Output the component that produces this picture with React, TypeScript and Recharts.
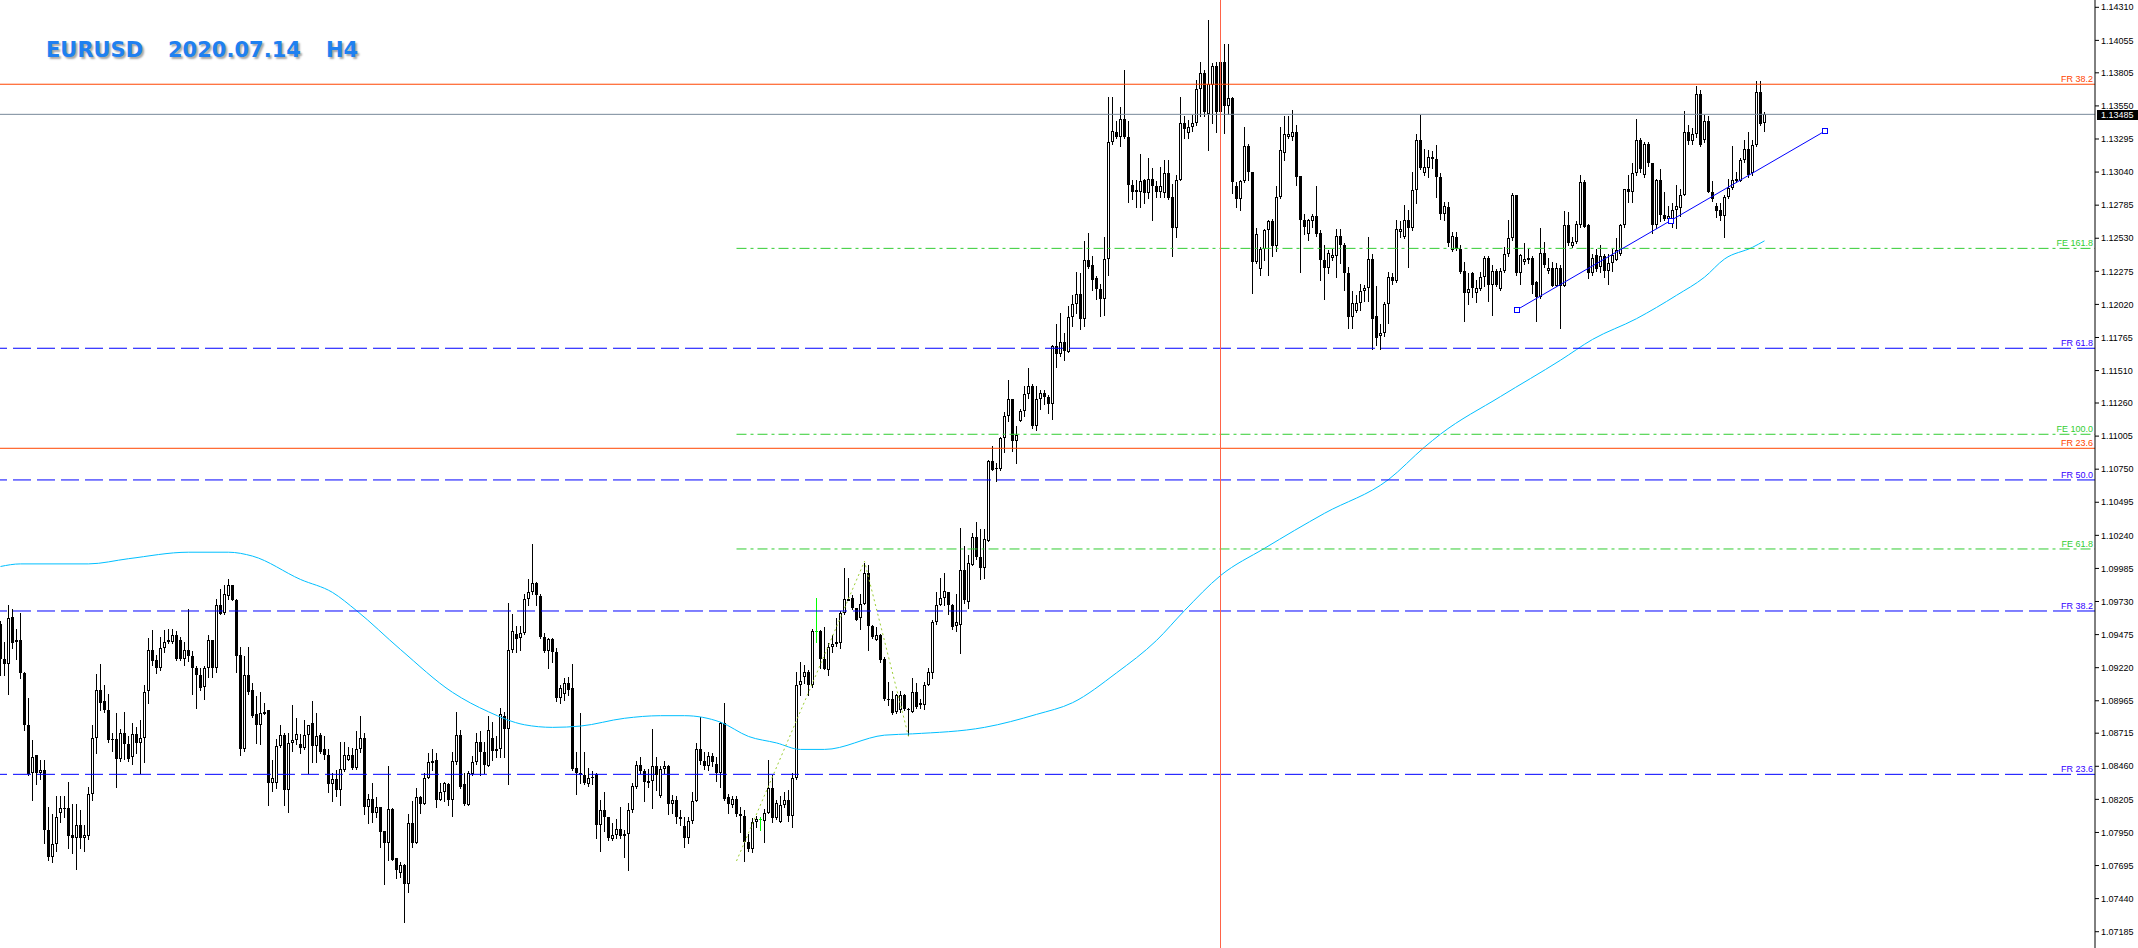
import React from 'react';
import { ComposedChart, Bar, Line, XAxis, YAxis, ReferenceLine, ReferenceDot } from 'recharts';

const OPEN = [
1.0956,1.0929,1.0925,1.0961,1.0942,1.0943,1.0918,1.0878,1.0841,1.0855,
1.0841,1.0843,1.0797,1.0776,1.0786,1.0810,1.0814,1.0814,1.0793,1.0791,
1.0801,1.0791,1.0792,1.0825,1.0868,1.0905,1.0896,1.0889,1.0867,1.0867,
1.0852,1.0872,1.0863,1.0853,1.0871,1.0864,1.0868,1.0904,1.0936,1.0928,
1.0922,1.0937,1.0942,1.0942,1.0947,1.0943,1.0929,1.0936,1.0931,1.0922,
1.0916,1.0907,1.0922,1.0943,1.0922,1.0970,1.0964,1.0977,1.0986,1.0974,
1.0932,1.0859,1.0916,1.0905,1.0886,1.0878,1.0887,1.0889,1.0833,1.0833,
1.0862,1.0870,1.0828,1.0864,1.0866,1.0863,1.0860,1.0870,1.0879,1.0862,
1.0870,1.0859,1.0855,1.0832,1.0836,1.0828,1.0843,1.0851,1.0855,1.0845,
1.0859,1.0868,1.0815,1.0821,1.0810,1.0815,1.0796,1.0787,1.0813,1.0775,
1.0764,1.0770,1.0755,1.0802,1.0787,1.0822,1.0817,1.0837,1.0849,1.0851,
1.0820,1.0826,1.0832,1.0820,1.0849,1.0870,1.0832,1.0816,1.0840,1.0849,
1.0865,1.0857,1.0846,1.0868,1.0858,1.0859,1.0885,1.0875,1.0936,1.0948,
1.0945,1.0949,1.0975,1.0980,1.0987,1.0977,1.0946,1.0935,1.0944,1.0934,
1.0899,1.0902,1.0910,1.0906,1.0845,1.0841,1.0839,1.0832,1.0838,1.0840,
1.0801,1.0812,1.0807,1.0790,1.0793,1.0798,1.0792,1.0794,1.0812,1.0830,
1.0847,1.0842,1.0834,1.0835,1.0846,1.0823,1.0844,1.0846,1.0817,1.0820,
1.0807,1.0800,1.0791,1.0804,1.0819,1.0859,1.0850,1.0846,1.0854,1.0848,
1.0841,1.0879,1.0822,1.0816,1.0821,1.0809,1.0808,1.0788,1.0782,1.0803,
1.0805,1.0804,1.0810,1.0829,1.0806,1.0803,1.0816,1.0820,1.0808,1.0837,
1.0909,1.0915,1.0919,1.0909,1.0950,1.0950,1.0929,1.0920,1.0938,1.0940,
1.0941,1.0964,1.0974,1.0976,1.0968,1.0960,1.0971,1.0995,1.0954,1.0943,
1.0947,1.0929,1.0898,1.0898,1.0888,1.0889,1.0901,1.0890,1.0888,1.0903,
1.0893,1.0893,1.0909,1.0918,1.0957,1.0970,1.0976,1.0980,1.0970,1.0954,
1.0955,1.0997,1.0973,1.1001,1.1023,1.1007,1.0999,1.1020,1.1081,1.1076,
1.1075,1.1099,1.1116,1.1129,1.1097,1.1112,1.1120,1.1133,1.1139,1.1108,
1.1129,1.1134,1.1131,1.1125,1.1170,1.1164,1.1173,1.1165,1.1192,1.1202,
1.1210,1.1191,1.1236,1.1232,1.1222,1.1214,1.1206,1.1237,1.1327,1.1335,
1.1331,1.1345,1.1331,1.1294,1.1290,1.1289,1.1298,1.1288,1.1299,1.1293,
1.1289,1.1288,1.1303,1.1285,1.1261,1.1298,1.1342,1.1334,1.1339,1.1342,
1.1368,1.1380,1.1349,1.1371,1.1386,1.1350,1.1389,1.1355,1.1361,1.1293,
1.1283,1.1297,1.1324,1.1304,1.1235,1.1229,1.1245,1.1259,1.1266,1.1247,
1.1285,1.1319,1.1331,1.1331,1.1335,1.1301,1.1267,1.1256,1.1266,1.1270,
1.1257,1.1236,1.1230,1.1238,1.1239,1.1255,1.1248,1.1226,1.1192,1.1197,
1.1203,1.1212,1.1215,1.1237,1.1193,1.1178,1.1180,1.1202,1.1223,1.1220,
1.1258,1.1254,1.1267,1.1261,1.1290,1.1329,1.1303,1.1307,1.1316,1.1314,
1.1300,1.1272,1.1277,1.1244,1.1254,1.1245,1.1228,1.1211,1.1226,1.1211,
1.1214,1.1223,1.1238,1.1217,1.1228,1.1214,1.1228,1.1241,1.1253,1.1286,
1.1226,1.1235,1.1236,1.1238,1.1219,1.1208,1.1242,1.1228,1.1230,1.1216,
1.1230,1.1216,1.1263,1.1247,1.1250,1.1263,1.1296,1.1263,1.1226,1.1240,
1.1231,1.1239,1.1228,1.1234,1.1236,1.1241,1.1263,1.1291,1.1289,1.1303,
1.1329,1.1302,1.1326,1.1311,1.1263,1.1298,1.1271,1.1268,1.1268,1.1275,
1.1276,1.1286,1.1335,1.1328,1.1333,1.1364,1.1329,1.1343,1.1289,1.1278,
1.1275,1.1270,1.1285,1.1292,1.1297,1.1297,1.1313,1.1322,1.1303,1.1325,
1.1366,1.1342,
];

const HIGH = [
1.0958,1.0942,1.0970,1.0967,1.0952,1.0964,1.0919,1.0899,1.0866,1.0855,
1.0851,1.0851,1.0815,1.0809,1.0823,1.0823,1.0823,1.0834,1.0817,1.0817,
1.0812,1.0801,1.0830,1.0878,1.0917,1.0925,1.0909,1.0902,1.0872,1.0887,
1.0875,1.0888,1.0869,1.0879,1.0876,1.0882,1.0909,1.0945,1.0951,1.0932,
1.0946,1.0951,1.0952,1.0952,1.0950,1.0946,1.0942,1.0967,1.0935,1.0923,
1.0922,1.0923,1.0947,1.0943,1.0975,1.0983,1.0986,1.0990,1.0986,1.0975,
1.0938,1.0931,1.0938,1.0910,1.0900,1.0903,1.0895,1.0889,1.0851,1.0867,
1.0878,1.0872,1.0872,1.0893,1.0883,1.0871,1.0882,1.0878,1.0896,1.0887,
1.0872,1.0869,1.0859,1.0841,1.0843,1.0865,1.0865,1.0861,1.0860,1.0873,
1.0885,1.0872,1.0825,1.0833,1.0822,1.0815,1.0796,1.0846,1.0814,1.0775,
1.0772,1.0771,1.0809,1.0819,1.0829,1.0823,1.0841,1.0856,1.0859,1.0856,
1.0833,1.0834,1.0833,1.0857,1.0888,1.0874,1.0841,1.0842,1.0854,1.0872,
1.0873,1.0865,1.0885,1.0880,1.0869,1.0891,1.0888,1.0972,1.0963,1.0954,
1.0954,1.0979,1.0990,1.1017,1.0988,1.0979,1.0949,1.0945,1.0945,1.0937,
1.0909,1.0914,1.0915,1.0925,1.0857,1.0887,1.0857,1.0845,1.0842,1.0841,
1.0820,1.0826,1.0807,1.0802,1.0805,1.0815,1.0797,1.0818,1.0833,1.0850,
1.0853,1.0844,1.0844,1.0875,1.0853,1.0846,1.0850,1.0847,1.0824,1.0823,
1.0812,1.0807,1.0807,1.0826,1.0864,1.0884,1.0857,1.0857,1.0856,1.0853,
1.0880,1.0895,1.0825,1.0823,1.0823,1.0815,1.0812,1.0794,1.0806,1.0808,
1.0807,1.0813,1.0851,1.0839,1.0820,1.0823,1.0826,1.0828,1.0841,1.0919,
1.0926,1.0924,1.0920,1.0952,1.0976,1.0951,1.0953,1.0941,1.0947,1.0960,
1.0966,1.0999,1.0991,1.0978,1.0968,1.0979,1.1003,1.1001,1.0955,1.0953,
1.0948,1.0930,1.0911,1.0904,1.0902,1.0904,1.0902,1.0891,1.0914,1.0910,
1.0898,1.0911,1.0922,1.0959,1.0980,1.0991,1.0995,1.0980,1.0971,1.0979,
1.1030,1.1016,1.1009,1.1026,1.1034,1.1029,1.1029,1.1082,1.1093,1.1080,
1.1100,1.1119,1.1144,1.1129,1.1108,1.1121,1.1139,1.1153,1.1141,1.1139,
1.1136,1.1136,1.1132,1.1171,1.1187,1.1195,1.1180,1.1201,1.1209,1.1227,
1.1226,1.1251,1.1257,1.1239,1.1224,1.1218,1.1254,1.1362,1.1362,1.1343,
1.1354,1.1383,1.1343,1.1298,1.1298,1.1318,1.1299,1.1315,1.1307,1.1297,
1.1308,1.1313,1.1313,1.1295,1.1302,1.1362,1.1347,1.1344,1.1348,1.1375,
1.1389,1.1383,1.1421,1.1388,1.1389,1.1402,1.1403,1.1403,1.1362,1.1296,
1.1298,1.1339,1.1326,1.1304,1.1261,1.1246,1.1260,1.1267,1.1268,1.1293,
1.1339,1.1347,1.1347,1.1352,1.1340,1.1301,1.1272,1.1268,1.1272,1.1293,
1.1259,1.1248,1.1244,1.1245,1.1260,1.1260,1.1249,1.1231,1.1212,1.1209,
1.1218,1.1217,1.1254,1.1241,1.1216,1.1187,1.1204,1.1227,1.1226,1.1267,
1.1266,1.1279,1.1275,1.1304,1.1333,1.1348,1.1322,1.1321,1.1320,1.1325,
1.1303,1.1281,1.1281,1.1258,1.1258,1.1248,1.1235,1.1226,1.1227,1.1221,
1.1227,1.1239,1.1239,1.1232,1.1229,1.1230,1.1246,1.1267,1.1288,1.1286,
1.1241,1.1249,1.1245,1.1239,1.1220,1.1261,1.1250,1.1238,1.1235,1.1234,
1.1232,1.1274,1.1273,1.1254,1.1266,1.1302,1.1298,1.1264,1.1241,1.1245,
1.1248,1.1241,1.1241,1.1245,1.1253,1.1264,1.1291,1.1302,1.1311,1.1345,
1.1330,1.1327,1.1327,1.1311,1.1299,1.1306,1.1289,1.1278,1.1280,1.1294,
1.1291,1.1351,1.1340,1.1338,1.1370,1.1367,1.1348,1.1347,1.1297,1.1280,
1.1280,1.1286,1.1299,1.1324,1.1304,1.1315,1.1329,1.1335,1.1329,1.1374,
1.1374,1.1350,
];

const LOW = [
1.0916,1.0916,1.0902,1.0937,1.0929,1.0914,1.0874,1.0839,1.0820,1.0832,
1.0836,1.0787,1.0774,1.0772,1.0781,1.0803,1.0807,1.0783,1.0779,1.0767,
1.0783,1.0781,1.0790,1.0820,1.0856,1.0889,1.0888,1.0865,1.0858,1.0830,
1.0850,1.0852,1.0850,1.0848,1.0856,1.0841,1.0849,1.0895,1.0924,1.0918,
1.0920,1.0934,1.0941,1.0941,1.0928,1.0928,1.0924,1.0927,1.0902,1.0891,
1.0905,1.0898,1.0915,1.0915,1.0919,1.0963,1.0963,1.0975,1.0974,1.0919,
1.0855,1.0858,1.0902,1.0884,1.0864,1.0863,1.0886,1.0816,1.0827,1.0829,
1.0861,1.0816,1.0811,1.0858,1.0863,1.0856,1.0859,1.0841,1.0849,1.0849,
1.0856,1.0852,1.0826,1.0819,1.0823,1.0816,1.0842,1.0851,1.0844,1.0844,
1.0857,1.0809,1.0802,1.0803,1.0807,1.0784,1.0755,1.0774,1.0774,1.0760,
1.0761,1.0726,1.0749,1.0784,1.0787,1.0810,1.0817,1.0837,1.0843,1.0815,
1.0820,1.0819,1.0816,1.0808,1.0848,1.0829,1.0816,1.0816,1.0839,1.0848,
1.0839,1.0841,1.0846,1.0851,1.0853,1.0853,1.0853,1.0832,1.0934,1.0934,
1.0936,1.0948,1.0970,1.0979,1.0970,1.0945,1.0934,1.0922,1.0926,1.0896,
1.0895,1.0897,1.0901,1.0843,1.0825,1.0833,1.0832,1.0831,1.0832,1.0791,
1.0781,1.0796,1.0789,1.0789,1.0791,1.0791,1.0776,1.0766,1.0811,1.0829,
1.0841,1.0819,1.0830,1.0814,1.0828,1.0822,1.0841,1.0809,1.0810,1.0802,
1.0801,1.0784,1.0787,1.0802,1.0819,1.0848,1.0844,1.0843,1.0846,1.0835,
1.0830,1.0820,1.0810,1.0815,1.0808,1.0795,1.0773,1.0781,1.0780,1.0799,
1.0797,1.0788,1.0810,1.0803,1.0805,1.0803,1.0815,1.0804,1.0799,1.0836,
1.0901,1.0910,1.0901,1.0907,1.0942,1.0922,1.0921,1.0916,1.0934,1.0939,
1.0937,1.0963,1.0974,1.0967,1.0959,1.0952,1.0971,1.0936,1.0945,1.0943,
1.0926,1.0897,1.0893,1.0886,1.0887,1.0888,1.0889,1.0870,1.0888,1.0891,
1.0891,1.0890,1.0909,1.0914,1.0956,1.0970,1.0970,1.0963,1.0952,1.0950,
1.0933,1.0972,1.0968,1.1001,1.1006,1.0990,1.0991,1.1020,1.1074,1.1066,
1.1074,1.1088,1.1112,1.1089,1.1080,1.1112,1.1116,1.1130,1.1107,1.1105,
1.1121,1.1125,1.1118,1.1114,1.1154,1.1162,1.1159,1.1165,1.1185,1.1195,
1.1183,1.1185,1.1230,1.1213,1.1206,1.1193,1.1194,1.1225,1.1326,1.1330,
1.1324,1.1330,1.1281,1.1283,1.1277,1.1277,1.1280,1.1284,1.1267,1.1285,
1.1285,1.1285,1.1283,1.1239,1.1254,1.1298,1.1330,1.1330,1.1336,1.1340,
1.1347,1.1347,1.1321,1.1342,1.1335,1.1324,1.1334,1.1349,1.1288,1.1277,
1.1275,1.1296,1.1298,1.1211,1.1234,1.1225,1.1236,1.1225,1.1239,1.1243,
1.1284,1.1313,1.1330,1.1329,1.1294,1.1227,1.1256,1.1252,1.1262,1.1255,
1.1221,1.1206,1.1226,1.1236,1.1223,1.1234,1.1213,1.1184,1.1184,1.1196,
1.1198,1.1205,1.1205,1.1168,1.1171,1.1168,1.1178,1.1188,1.1218,1.1219,
1.1254,1.1253,1.1231,1.1259,1.1280,1.1306,1.1302,1.1300,1.1307,1.1285,
1.1268,1.1267,1.1247,1.1243,1.1244,1.1226,1.1189,1.1202,1.1208,1.1204,
1.1213,1.1216,1.1205,1.1194,1.1216,1.1213,1.1227,1.1239,1.1252,1.1225,
1.1218,1.1233,1.1234,1.1211,1.1189,1.1207,1.1231,1.1226,1.1216,1.1216,
1.1184,1.1216,1.1248,1.1246,1.1249,1.1262,1.1262,1.1222,1.1225,1.1228,
1.1227,1.1223,1.1218,1.1228,1.1236,1.1240,1.1262,1.1281,1.1281,1.1302,
1.1304,1.1300,1.1309,1.1257,1.1261,1.1266,1.1267,1.1267,1.1262,1.1261,
1.1270,1.1286,1.1326,1.1326,1.1331,1.1324,1.1327,1.1289,1.1282,1.1269,
1.1267,1.1254,1.1284,1.1291,1.1296,1.1297,1.1312,1.1300,1.1302,1.1324,
1.1340,1.1336,
];

const CLOSE = [
1.0929,1.0925,1.0960,1.0941,1.0943,1.0918,1.0878,1.0840,1.0853,1.0841,
1.0843,1.0797,1.0776,1.0786,1.0807,1.0814,1.0813,1.0792,1.0791,1.0801,
1.0791,1.0793,1.0825,1.0868,1.0905,1.0895,1.0889,1.0866,1.0866,1.0852,
1.0872,1.0863,1.0852,1.0871,1.0864,1.0868,1.0903,1.0936,1.0927,1.0922,
1.0937,1.0942,1.0943,1.0947,1.0929,1.0929,1.0936,1.0931,1.0922,1.0916,
1.0906,1.0922,1.0943,1.0922,1.0970,1.0963,1.0979,1.0986,1.0974,1.0931,
1.0859,1.0916,1.0903,1.0885,1.0878,1.0887,1.0888,1.0833,1.0837,1.0862,
1.0870,1.0828,1.0864,1.0866,1.0871,1.0860,1.0870,1.0878,1.0862,1.0869,
1.0857,1.0855,1.0832,1.0836,1.0828,1.0844,1.0855,1.0855,1.0845,1.0859,
1.0868,1.0815,1.0821,1.0810,1.0815,1.0795,1.0787,1.0813,1.0774,1.0766,
1.0770,1.0755,1.0802,1.0787,1.0822,1.0817,1.0837,1.0849,1.0850,1.0820,
1.0826,1.0833,1.0820,1.0850,1.0870,1.0830,1.0817,1.0841,1.0849,1.0865,
1.0857,1.0847,1.0874,1.0858,1.0859,1.0886,1.0875,1.0936,1.0950,1.0944,
1.0949,1.0975,1.0980,1.0987,1.0978,1.0946,1.0935,1.0944,1.0934,1.0899,
1.0906,1.0910,1.0905,1.0844,1.0841,1.0839,1.0833,1.0837,1.0837,1.0801,
1.0812,1.0807,1.0791,1.0793,1.0798,1.0792,1.0794,1.0812,1.0831,1.0847,
1.0842,1.0834,1.0835,1.0846,1.0839,1.0844,1.0846,1.0817,1.0820,1.0807,
1.0805,1.0791,1.0804,1.0819,1.0859,1.0850,1.0846,1.0854,1.0849,1.0841,
1.0879,1.0821,1.0817,1.0821,1.0809,1.0808,1.0788,1.0782,1.0803,1.0805,
1.0805,1.0810,1.0829,1.0806,1.0818,1.0816,1.0820,1.0808,1.0837,1.0909,
1.0912,1.0919,1.0909,1.0950,1.0950,1.0929,1.0921,1.0938,1.0940,1.0942,
1.0964,1.0975,1.0975,1.0968,1.0959,1.0971,1.0995,1.0954,1.0946,1.0947,
1.0928,1.0898,1.0897,1.0887,1.0901,1.0901,1.0890,1.0889,1.0903,1.0892,
1.0895,1.0909,1.0919,1.0957,1.0970,1.0976,1.0981,1.0970,1.0953,1.0957,
1.0997,1.0974,1.1003,1.1023,1.1007,1.0999,1.1021,1.1081,1.1074,1.1075,
1.1099,1.1116,1.1129,1.1097,1.1101,1.1120,1.1133,1.1139,1.1108,1.1129,
1.1134,1.1131,1.1125,1.1170,1.1164,1.1173,1.1166,1.1192,1.1202,1.1210,
1.1191,1.1236,1.1231,1.1221,1.1214,1.1206,1.1237,1.1327,1.1336,1.1331,
1.1345,1.1331,1.1294,1.1289,1.1289,1.1297,1.1288,1.1299,1.1293,1.1289,
1.1293,1.1303,1.1284,1.1261,1.1298,1.1342,1.1337,1.1339,1.1342,1.1368,
1.1380,1.1350,1.1372,1.1386,1.1350,1.1389,1.1355,1.1361,1.1296,1.1283,
1.1297,1.1324,1.1304,1.1235,1.1256,1.1245,1.1259,1.1266,1.1247,1.1285,
1.1321,1.1333,1.1333,1.1335,1.1300,1.1267,1.1262,1.1267,1.1270,1.1256,
1.1236,1.1230,1.1242,1.1240,1.1255,1.1248,1.1226,1.1192,1.1203,1.1203,
1.1212,1.1215,1.1237,1.1191,1.1176,1.1180,1.1202,1.1223,1.1220,1.1260,
1.1260,1.1267,1.1261,1.1290,1.1329,1.1307,1.1308,1.1316,1.1314,1.1300,
1.1272,1.1278,1.1249,1.1255,1.1245,1.1227,1.1211,1.1214,1.1215,1.1215,
1.1223,1.1238,1.1217,1.1228,1.1217,1.1228,1.1241,1.1253,1.1286,1.1226,
1.1240,1.1237,1.1238,1.1217,1.1208,1.1242,1.1232,1.1230,1.1216,1.1230,
1.1216,1.1263,1.1249,1.1250,1.1264,1.1296,1.1262,1.1226,1.1238,1.1229,
1.1239,1.1228,1.1234,1.1240,1.1244,1.1263,1.1291,1.1289,1.1303,1.1329,
1.1306,1.1326,1.1311,1.1263,1.1298,1.1271,1.1268,1.1270,1.1275,1.1278,
1.1286,1.1335,1.1328,1.1333,1.1364,1.1325,1.1343,1.1289,1.1283,1.1274,
1.1270,1.1285,1.1292,1.1298,1.1299,1.1313,1.1322,1.1302,1.1325,1.1366,
1.1341,1.13485,
];

// bars drawn in lime by the terminal
const GREEN_BARS = [190, 204];

// moving average, read at sample bars
const MA_IDX = [0,5,22,32,47,57,63,75,83,89,100,113,122,131,138,145,156,165,171,180,187,194,200,206,221,228,246,259,268,279,289,296,305,316,331,347,356,360,375,390,398,409,419,426,431,438,441];
const MA_VAL = [1.1000,1.1002,1.1002,1.1006,1.1011,1.1011,1.1008,1.0990,1.0980,1.0966,1.0936,1.0903,1.0888,1.0878,1.0876,1.0877,1.0883,1.0885,1.0885,1.0880,1.0869,1.0864,1.0859,1.0859,1.0870,1.0871,1.0876,1.0886,1.0895,1.0918,1.0943,1.0966,1.0993,1.1014,1.1041,1.1067,1.1092,1.1102,1.1131,1.1159,1.1175,1.1191,1.1209,1.1223,1.1237,1.1246,1.1251];

// Fibonacci expansion anchors (A, B, C)
const FE_IDX = [184, 216, 227];
const FE_VAL = [1.0773, 1.1004, 1.0869];
const FE_LABELS = ['FE 161.8', 'FE 100.0', 'FE 61.8'];
const FE_LEVELS = [1.12452, 1.11019, 1.10135];

const FR_ORANGE_LABELS = ['FR 38.2', 'FR 23.6'];
const FR_ORANGE_LEVELS = [1.13717, 1.10911];
const FR_BLUE_LABELS = ['FR 61.8', 'FR 50.0', 'FR 38.2', 'FR 23.6'];
const FR_BLUE_LEVELS = [1.11682, 1.10667, 1.09657, 1.08398];

const BID = 1.13485;
const VLINE_INDEX = 305;
const TREND_IDX = [379, 456];
const TREND_VAL = [1.11977, 1.13354];

const Y_TICKS = [1.14310,1.14055,1.13805,1.13550,1.13295,1.13040,1.12785,1.12530,1.12275,1.12020,1.11765,1.11510,1.11260,1.11005,1.10750,1.10495,1.10240,1.09985,1.09730,1.09475,1.09220,1.08965,1.08715,1.08460,1.08205,1.07950,1.07695,1.07440,1.07185];
const Y_DOMAIN: [number, number] = [1.070594, 1.143663];
const X_DOMAIN: [number, number] = [-0.125, 523.625];

const TITLE_PARTS = ['EURUSD', '2020.07.14', 'H4'];

const FONT = '"Liberation Sans", Arial, sans-serif';

const data = OPEN.map((o, i) => ({
  i,
  o,
  h: HIGH[i],
  l: LOW[i],
  c: CLOSE[i],
  range: [LOW[i], HIGH[i]],
  g: GREEN_BARS.includes(i),
}));
const maData = MA_IDX.map((i, k) => ({ i, ma: MA_VAL[k] }));
const feData = FE_IDX.map((i, k) => ({ i, fe: FE_VAL[k] }));

const Candle = (props: any) => {
  const { x, y, width, height, payload } = props;
  if (!payload || x == null || y == null) return null;
  const { o, h, l, c, g } = payload;
  const cx = Math.floor(x + width / 2) + 0.5;
  const span = h - l;
  const toY = (v: number) => (span > 0 ? y + ((h - v) / span) * height : y);
  const yH = Math.round(y);
  const yL = Math.round(y + height);
  const yO = toY(o);
  const yC = toY(c);
  const top = Math.round(Math.min(yO, yC));
  const bot = Math.round(Math.max(yO, yC));
  if (g) {
    return (
      <g>
        <line x1={cx} x2={cx} y1={yH} y2={yL + 1} stroke="#00FF00" strokeWidth={1} />
        <line x1={cx - 1.5} x2={cx + 1.5} y1={top + 0.5} y2={top + 0.5} stroke="#00FF00" strokeWidth={1} />
      </g>
    );
  }
  const bull = c > o;
  return (
    <g>
      <line x1={cx} x2={cx} y1={yH} y2={yL + 1} stroke="#000" strokeWidth={1} />
      {bull ? (
        bot - top >= 2 ? (
          <rect x={cx - 1} y={top + 0.5} width={2} height={bot - top - 1} fill="#fff" stroke="#000" strokeWidth={1} />
        ) : (
          <rect x={cx - 1.5} y={top} width={3} height={Math.max(1, bot - top + 1)} fill="#000" />
        )
      ) : (
        <rect x={cx - 1.5} y={top} width={3} height={Math.max(1, bot - top)} fill="#000" />
      )}
    </g>
  );
};

const levelLabel = (text: string, color: string) => (props: any) => {
  const vb = props.viewBox || {};
  return (
    <text x={vb.x + vb.width - 2} y={vb.y - 2} textAnchor="end" fill={color} fontSize={9} fontFamily={FONT}>
      {text}
    </text>
  );
};

const bidLabel = (props: any) => {
  const vb = props.viewBox || {};
  const right = vb.x + vb.width;
  const yy = Math.round(vb.y);
  return (
    <g>
      <rect x={right + 2} y={yy - 4} width={44} height={10} fill="#000" />
      <text x={right + 6} y={yy + 4} fill="#fff" fontSize={9} fontFamily={FONT}>
        {BID.toFixed(5)}
      </text>
    </g>
  );
};

const squareShape = (p: any) => (
  <rect x={Math.round(p.cx) - 2.5} y={Math.round(p.cy) - 2.5} width={5} height={5} fill="#fff" stroke="#0000FF" strokeWidth={1} />
);

export default function App() {
  const W = 2138;
  const H = 948;
  return (
    <div style={{ position: 'absolute', left: 0, top: 0, width: W, height: H, background: '#fff', overflow: 'hidden' }}>
      <ComposedChart width={W} height={H} data={data} margin={{ top: 0, right: 0, bottom: 0, left: 0 }}>
        <XAxis type="number" dataKey="i" domain={X_DOMAIN} hide allowDataOverflow />
        <YAxis
          type="number"
          orientation="right"
          domain={Y_DOMAIN}
          ticks={Y_TICKS}
          interval={0}
          width={43}
          allowDataOverflow
          tickFormatter={(v: number) => v.toFixed(5)}
          axisLine={{ stroke: '#000' }}
          tickLine={{ stroke: '#000' }}
          tickSize={4}
          tickMargin={2}
          tick={{ fontSize: 9, fill: '#000', fontFamily: FONT }}
        />
        <Bar dataKey="range" barSize={3} shape={<Candle />} isAnimationActive={false} />
        <Line data={maData} dataKey="ma" type="monotone" dot={false} activeDot={false} stroke="#00BFFF" strokeWidth={1} isAnimationActive={false} />
        <Line data={feData} dataKey="fe" type="linear" dot={false} activeDot={false} stroke="#9ACD32" strokeWidth={1} strokeDasharray="2 3" isAnimationActive={false} />

        {FR_BLUE_LEVELS.map((v, k) => (
          <ReferenceLine key={'b' + k} y={v} stroke="#0000FF" strokeWidth={1} strokeDasharray="18 6" label={levelLabel(FR_BLUE_LABELS[k], '#3300FF')} />
        ))}
        {FE_LEVELS.map((v, k) => (
          <ReferenceLine
            key={'f' + k}
            segment={[{ x: FE_IDX[0], y: v }, { x: X_DOMAIN[1], y: v }]}
            stroke="#32CD32"
            strokeWidth={1}
            strokeDasharray="10 4 3 4"
            label={levelLabel(FE_LABELS[k], '#32CD32')}
          />
        ))}
        {FR_ORANGE_LEVELS.map((v, k) => (
          <ReferenceLine key={'o' + k} y={v} stroke="#FF4500" strokeWidth={1} label={levelLabel(FR_ORANGE_LABELS[k], '#FF4500')} />
        ))}
        <ReferenceLine y={BID} stroke="#778899" strokeWidth={1} label={bidLabel} />
        <ReferenceLine x={VLINE_INDEX} stroke="#FF6347" strokeWidth={1} />
        <ReferenceLine
          segment={[{ x: TREND_IDX[0], y: TREND_VAL[0] }, { x: TREND_IDX[1], y: TREND_VAL[1] }]}
          stroke="#0000FF"
          strokeWidth={1}
        />
        <ReferenceDot x={TREND_IDX[0]} y={TREND_VAL[0]} shape={squareShape} />
        <ReferenceDot x={(TREND_IDX[0] + TREND_IDX[1]) / 2} y={(TREND_VAL[0] + TREND_VAL[1]) / 2} shape={squareShape} />
        <ReferenceDot x={TREND_IDX[1]} y={TREND_VAL[1]} shape={squareShape} />
      </ComposedChart>
      {TITLE_PARTS.map((t, k) => (
        <div
          key={t}
          style={{
            position: 'absolute',
            left: [46, 168, 326][k],
            top: 40,
            font: 'bold 21px "DejaVu Sans", sans-serif',
            lineHeight: '21px',
            color: '#1F80F0',
            textShadow: '2px 2px 2px rgba(0,0,0,0.35)',
            whiteSpace: 'pre',
          }}
        >
          {t}
        </div>
      ))}
    </div>
  );
}
